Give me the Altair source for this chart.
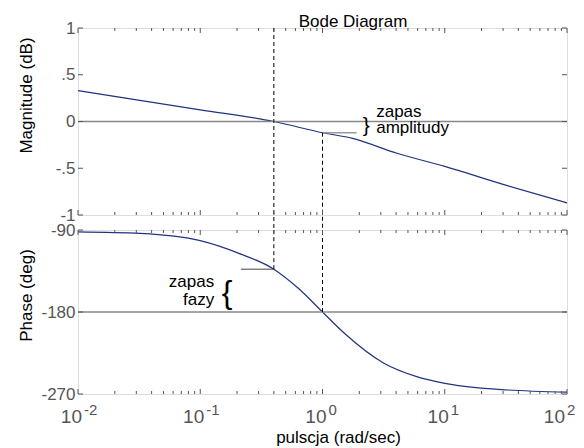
import altair as alt
import pandas as pd

# ---- data ----
mag_w = [0.01, 0.1, 0.4, 0.526, 1.0, 1.76, 4.07, 10.0, 31.5, 100.0]
mag_db = [0.33, 0.125, 0.0, -0.035, -0.12, -0.18, -0.34, -0.48, -0.68, -0.87]

ph_w = [0.01, 0.0323, 0.1, 0.207, 0.4, 0.634, 1.0, 1.51, 3.18, 5.9, 10.0, 18.0, 33.0, 100.0]
ph_deg = [-92, -93.7, -101.7, -115.6, -133, -154, -180, -203.4, -236.3, -251, -258.3, -263, -265.6, -268]

w_gain_cross = 0.4      # magnitude crosses 0 dB
w_phase_cross = 1.0     # phase crosses -180 deg
mag_at_pc = -0.12       # magnitude at phase crossover
ph_at_gc = -133         # phase at gain crossover

mag_ticks = [1, 0.5, 0, -0.5, -1]
ph_ticks = [-90, -180, -270]
dec_ticks = [0.01, 0.1, 1, 10, 100]
dec_exp = ["-2", "-1", "0", "1", "2"]
minor_ticks = [d * m for m in [0.01, 0.1, 1, 10] for d in range(2, 10)]

# ---- layout / style ----
W, H1, H2, GAP = 489, 187, 164, 15
NAVY = "#1f3380"
FRAME = "#555555"
LBL = "#555555"
FONT = "Liberation Sans"

xs = alt.Scale(type="log", domain=[0.01, 100], nice=False)
ys1 = alt.Scale(domain=[-1, 1], nice=False, zero=False)
ys2 = alt.Scale(domain=[-270, -90], nice=False, zero=False)

ax_y1 = alt.Axis(
    values=mag_ticks, format="~g",
    labelExpr="replace(replace(datum.label, '0.', '.'), '\u2212', '-')",
    ticks=False, domain=False, grid=False, labelPadding=3,
    labelFontSize=17, labelColor=LBL, labelFont=FONT,
    title="Magnitude (dB)", titleAngle=270, titleX=-52, titleY=67,
    titleAlign="center", titleBaseline="middle", titleFontSize=17,
    titleFontWeight="normal", titleColor="black", titleFont=FONT)
ax_y2 = alt.Axis(
    values=ph_ticks, format="d", labelExpr="replace(datum.label, '\u2212', '-')",
    ticks=False, domain=False, grid=False, labelPadding=3,
    labelFontSize=17, labelColor=LBL, labelFont=FONT,
    title="Phase (deg)", titleAngle=270, titleX=-52, titleY=65,
    titleAlign="center", titleBaseline="middle", titleFontSize=17,
    titleFontWeight="normal", titleColor="black", titleFont=FONT)
ax_x2 = alt.Axis(
    labels=False, ticks=False, domain=False, grid=False,
    title="pulscja (rad/sec)", titleX=260, titleY=48, titleAlign="center",
    titleBaseline="alphabetic", titleFontSize=17, titleFontWeight="normal",
    titleColor="black", titleFont=FONT)


def X1(f="w"):
    return alt.X(f + ":Q", scale=xs, axis=None)


def Y1(f="v"):
    return alt.Y(f + ":Q", scale=ys1, axis=ax_y1)


def X2(f="w"):
    return alt.X(f + ":Q", scale=xs, axis=ax_x2)


def Y2(f="v"):
    return alt.Y(f + ":Q", scale=ys2, axis=ax_y2)


dfx_major = pd.DataFrame({"w": dec_ticks, "e": dec_exp})
dfx_minor = pd.DataFrame({"w": minor_ticks})


def xticks(h, X):
    layers = []
    for df, L in [(dfx_major, 5), (dfx_minor, 3)]:
        layers.append(alt.Chart(df).mark_rule(color=FRAME, strokeWidth=1).encode(
            x=X(), y=alt.value(0), y2=alt.value(L)))
        layers.append(alt.Chart(df).mark_rule(color=FRAME, strokeWidth=1).encode(
            x=X(), y=alt.value(h - L), y2=alt.value(h)))
    return layers


def yticks(vals, Y):
    df = pd.DataFrame({"v": vals})
    return [
        alt.Chart(df).mark_rule(color=FRAME, strokeWidth=1).encode(
            y=Y(), x=alt.value(0), x2=alt.value(5)),
        alt.Chart(df).mark_rule(color=FRAME, strokeWidth=1).encode(
            y=Y(), x=alt.value(W - 5), x2=alt.value(W)),
    ]


# ---- magnitude panel ----
mag_df = pd.DataFrame({"w": mag_w, "v": mag_db})
curve1 = alt.Chart(mag_df).mark_line(color=NAVY, strokeWidth=1.2, interpolate="monotone").encode(
    x=X1(), y=Y1())
zero1 = alt.Chart(pd.DataFrame({"v": [0]})).mark_rule(color="#888888", strokeWidth=1.3).encode(y=Y1())
dash1 = alt.Chart(pd.DataFrame({"w": [w_gain_cross, w_phase_cross], "v": [1, mag_at_pc]})).mark_rule(
    color="black", strokeWidth=1, strokeDash=[4, 3]).encode(
    x=X1(), y=Y1(), y2=alt.value(H1 + GAP))
gm_line = alt.Chart(pd.DataFrame({"w": [w_phase_cross], "w2": [1.9], "v": [mag_at_pc]})).mark_rule(
    color="#999999", strokeWidth=1.5).encode(x=X1(), x2="w2:Q", y=Y1())
brace1 = alt.Chart(pd.DataFrame({"w": [2.28], "v": [-0.053], "t": ["}"]})).mark_text(
    fontSize=21, align="center", baseline="middle", font=FONT, color="black").encode(
    x=X1(), y=Y1(), text="t:N")
gm_text = alt.Chart(pd.DataFrame({"w": [2.75, 2.75], "v": [0.053, -0.128], "t": ["zapas", "amplitudy"]})).mark_text(
    fontSize=17, align="left", baseline="alphabetic", font=FONT, color="black").encode(
    x=X1(), y=Y1(), text="t:N")
title = alt.Chart(pd.DataFrame({"t": ["Bode Diagram"]})).mark_text(
    fontSize=17, align="center", baseline="alphabetic", font=FONT, color="black").encode(
    x=alt.value(275), y=alt.value(-1.5), text="t:N")

top = alt.layer(curve1, zero1, gm_line, dash1, brace1, gm_text, title,
                *xticks(H1, X1), *yticks(mag_ticks, Y1)).properties(width=W, height=H1)

# ---- phase panel ----
ph_df = pd.DataFrame({"w": ph_w, "v": ph_deg})
curve2 = alt.Chart(ph_df).mark_line(color=NAVY, strokeWidth=1.2, interpolate="monotone").encode(
    x=X2(), y=Y2())
line180 = alt.Chart(pd.DataFrame({"v": [-180]})).mark_rule(color="#888888", strokeWidth=1.5).encode(y=Y2())
dash2 = alt.Chart(pd.DataFrame({"w": [w_gain_cross, w_phase_cross], "v": [ph_at_gc, -180]})).mark_rule(
    color="black", strokeWidth=1, strokeDash=[4, 3]).encode(x=X2(), y=Y2(), y2=alt.value(0))
pm_line = alt.Chart(pd.DataFrame({"w": [0.215], "w2": [w_gain_cross], "v": [ph_at_gc]})).mark_rule(
    color="#444444", strokeWidth=1).encode(x=X2(), x2="w2:Q", y=Y2())
brace2 = alt.Chart(pd.DataFrame({"w": [0.166], "v": [-159], "t": ["{"]})).mark_text(
    fontSize=32, align="center", baseline="middle", font=FONT, color="black").encode(
    x=X2(), y=Y2(), text="t:N")
pm_text = alt.Chart(pd.DataFrame({"w": [0.130, 0.130], "v": [-152.6, -172.3], "t": ["zapas", "fazy"]})).mark_text(
    fontSize=17, align="right", baseline="alphabetic", font=FONT, color="black").encode(
    x=X2(), y=Y2(), text="t:N")
xl_base = alt.Chart(dfx_major).transform_filter("datum.w < 50").mark_text(
    fontSize=19, align="right", baseline="middle", dx=4, font=FONT, color=LBL).encode(
    x=X2(), y=alt.value(H2 + 23), text=alt.value("10"))
xl_exp = alt.Chart(dfx_major).transform_filter("datum.w < 50").mark_text(
    fontSize=15, align="left", baseline="middle", dx=6, font=FONT, color=LBL).encode(
    x=X2(), y=alt.value(H2 + 16), text="e:N")
xl_base_last = alt.Chart(dfx_major).transform_filter("datum.w > 50").mark_text(
    fontSize=19, align="right", baseline="middle", dx=-2, font=FONT, color=LBL).encode(
    x=X2(), y=alt.value(H2 + 23), text=alt.value("10"))
xl_exp_last = alt.Chart(dfx_major).transform_filter("datum.w > 50").mark_text(
    fontSize=15, align="left", baseline="middle", dx=0, font=FONT, color=LBL).encode(
    x=X2(), y=alt.value(H2 + 16), text="e:N")

bottom = alt.layer(curve2, line180, pm_line, dash2, brace2, pm_text,
                   xl_base, xl_exp, xl_base_last, xl_exp_last,
                   *xticks(H2, X2), *yticks(ph_ticks, Y2)).properties(width=W, height=H2)

chart = alt.vconcat(top, bottom, spacing=GAP, bounds="flush").properties(
    padding={"left": 8, "top": 4, "right": 0, "bottom": 0}
).configure_view(stroke=FRAME, strokeWidth=1).configure(font=FONT)

chart.save("out.html", embed_options={"renderer": "svg", "actions": False})
